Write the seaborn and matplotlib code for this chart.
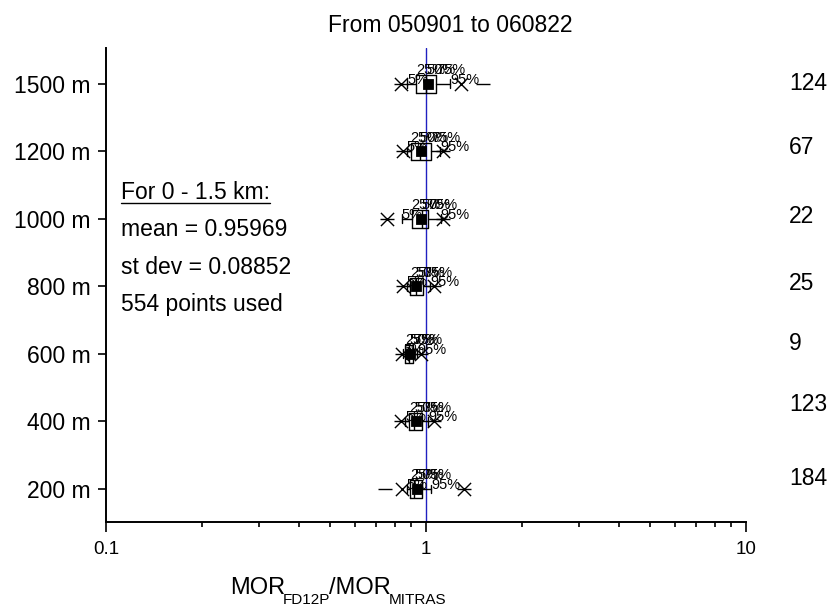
import numpy as np
import seaborn as sns
import matplotlib.pyplot as plt
from matplotlib.lines import Line2D
from matplotlib.ticker import LogLocator, NullFormatter, FixedFormatter, FixedLocator

# data (MOR_FD12P / MOR_MITRAS per visibility class)
distances = ["200 m", "400 m", "600 m", "800 m", "1000 m", "1200 m", "1500 m"]
counts = [184, 123, 9, 25, 22, 67, 124]
p1 = [0.84, 0.834, 0.84, 0.846, 0.754, 0.845, 0.835]
p5 = [0.87, 0.86, 0.85, 0.87, 0.84, 0.87, 0.873]
p25 = [0.891, 0.887, 0.86, 0.891, 0.902, 0.896, 0.93]
p50 = [0.92, 0.92, 0.885, 0.93, 0.97, 0.955, 1.0]
p75 = [0.97, 0.97, 0.91, 0.979, 1.017, 1.036, 1.075]
p95 = [1.04, 1.015, 0.94, 1.03, 1.11, 1.106, 1.188]
p99 = [1.31, 1.059, 0.962, 1.059, 1.127, 1.13, 1.29]
vmin = [0.745, 0.834, 0.84, 0.846, 0.754, 0.845, 0.835]
vmax = [1.31, 1.059, 0.962, 1.059, 1.127, 1.13, 1.507]
means = [0.94, 0.929, 0.891, 0.93, 0.962, 0.965, 1.018]

summary = ["For 0 - 1.5 km:", "mean = 0.95969", "st dev = 0.08852", "554 points used"]
xlabel_parts = [("MOR", False), ("FD12P", True), ("/MOR", False), ("MITRAS", True)]

# vertical nudges for the count labels on the right (category units)
count_nudge = [0.16, 0.25, 0.15, 0.04, 0.03, 0.06, 0.01]

sns.set_style("ticks")
plt.rcParams['font.family'] = ['Liberation Sans', 'DejaVu Sans']
plt.rcParams['text.color'] = 'black'
plt.rcParams['axes.labelcolor'] = 'black'
plt.rcParams['xtick.color'] = 'black'
plt.rcParams['ytick.color'] = 'black'

fig = plt.figure(figsize=(8.3, 6.08), dpi=100)
ax = fig.add_axes([106 / 830, 1 - 522 / 608, 640 / 830, 474 / 608])

ypos = np.arange(len(distances))

# boxes: 25-75 %, whiskers 5-95 %
stats = []
for i in range(len(distances)):
    stats.append(dict(med=p50[i], q1=p25[i], q3=p75[i],
                      whislo=p5[i], whishi=p95[i], fliers=[]))
ax.bxp(stats, positions=ypos, widths=0.26, orientation='horizontal',
       showfliers=False, capwidths=0.13,
       boxprops=dict(color='black', lw=1),
       whiskerprops=dict(color='black', lw=1),
       capprops=dict(color='black', lw=1),
       medianprops=dict(color='black', lw=1),
       manage_ticks=False)

ax.axvline(1, color='#2020c0', lw=1, zorder=1)

# 1 % / 99 % crosses, min / max dashes, mean squares
sns.scatterplot(x=p1 + p99, y=list(ypos) * 2, marker='x', s=90, color='black',
                linewidth=1, ax=ax, zorder=4)
sns.scatterplot(x=vmin + vmax, y=list(ypos) * 2, marker='_', s=90, color='black',
                linewidth=1, ax=ax, zorder=4)
sns.scatterplot(x=means, y=ypos, marker='s', s=55, color='black',
                edgecolor='black', ax=ax, zorder=5)

# percentile labels
for i, y in enumerate(ypos):
    ax.text(p5[i], y + 0.06, "5%", fontsize=10.5, ha='left', va='center')
    ax.text(p95[i], y + 0.06, "95%", fontsize=10.5, ha='left', va='center')
    for v, lab in [(p25[i], "25%"), (p50[i], "50%"), (p75[i], "75%")]:
        ax.text(v, y + 0.1, lab, fontsize=10.5, ha='left', va='bottom')

# sample counts on the right
for i, y in enumerate(ypos):
    ax.text(1.067, y + count_nudge[i], str(counts[i]), fontsize=16.5,
            ha='left', va='center', transform=ax.get_yaxis_transform(),
            clip_on=False)

ax.set_xscale('log')
ax.set_xlim(0.1, 10)
ax.set_ylim(-0.49, 6.53)
ax.xaxis.set_major_locator(FixedLocator([0.1, 1, 10]))
ax.xaxis.set_major_formatter(FixedFormatter(["0.1", "1", "10"]))
ax.xaxis.set_minor_locator(LogLocator(base=10, subs=np.arange(2, 10)))
ax.xaxis.set_minor_formatter(NullFormatter())
ax.set_yticks(ypos)
ax.set_yticklabels(distances)

ax.tick_params(axis='x', which='major', length=7, width=1.2, labelsize=13.5, pad=7, direction='out')
ax.tick_params(axis='x', which='minor', length=3.5, width=1.2, direction='out')
ax.tick_params(axis='y', which='major', length=6, width=1.2, labelsize=16.5, pad=5, direction='out')
for side in ['top', 'right']:
    ax.spines[side].set_visible(False)
for side in ['left', 'bottom']:
    ax.spines[side].set_linewidth(1.4)
    ax.spines[side].set_color('black')

fig.text(450 / 830, 1 - 25 / 608, "From 050901 to 060822", fontsize=16.5,
         ha='center', va='center')

# summary block
line_y = [193, 229, 267, 305]
txts = []
for lab, yy in zip(summary, line_y):
    txts.append(fig.text(121 / 830, 1 - yy / 608, lab, fontsize=16.5,
                         ha='left', va='center'))

# x label built from pieces so the subscripts can be small
fig.canvas.draw()
renderer = fig.canvas.get_renderer()
pieces = []
for s, sub in xlabel_parts:
    pieces.append(fig.text(0, 0, s, fontsize=11 if sub else 17, va='baseline'))
widths = [p.get_window_extent(renderer).width for p in pieces]
x = 338 - (sum(widths) - 6) / 2
for p, w, (s, sub) in zip(pieces, widths, xlabel_parts):
    base = 604 if sub else 594
    p.set_position((x / 830, 1 - base / 608))
    x += w - 2

bb = txts[0].get_window_extent(renderer).transformed(fig.transFigure.inverted())
fig.add_artist(Line2D([bb.x0, bb.x1], [bb.y0 + 0.002, bb.y0 + 0.002],
                      transform=fig.transFigure, color='black', lw=1))

fig.savefig("out.png", dpi=100)
